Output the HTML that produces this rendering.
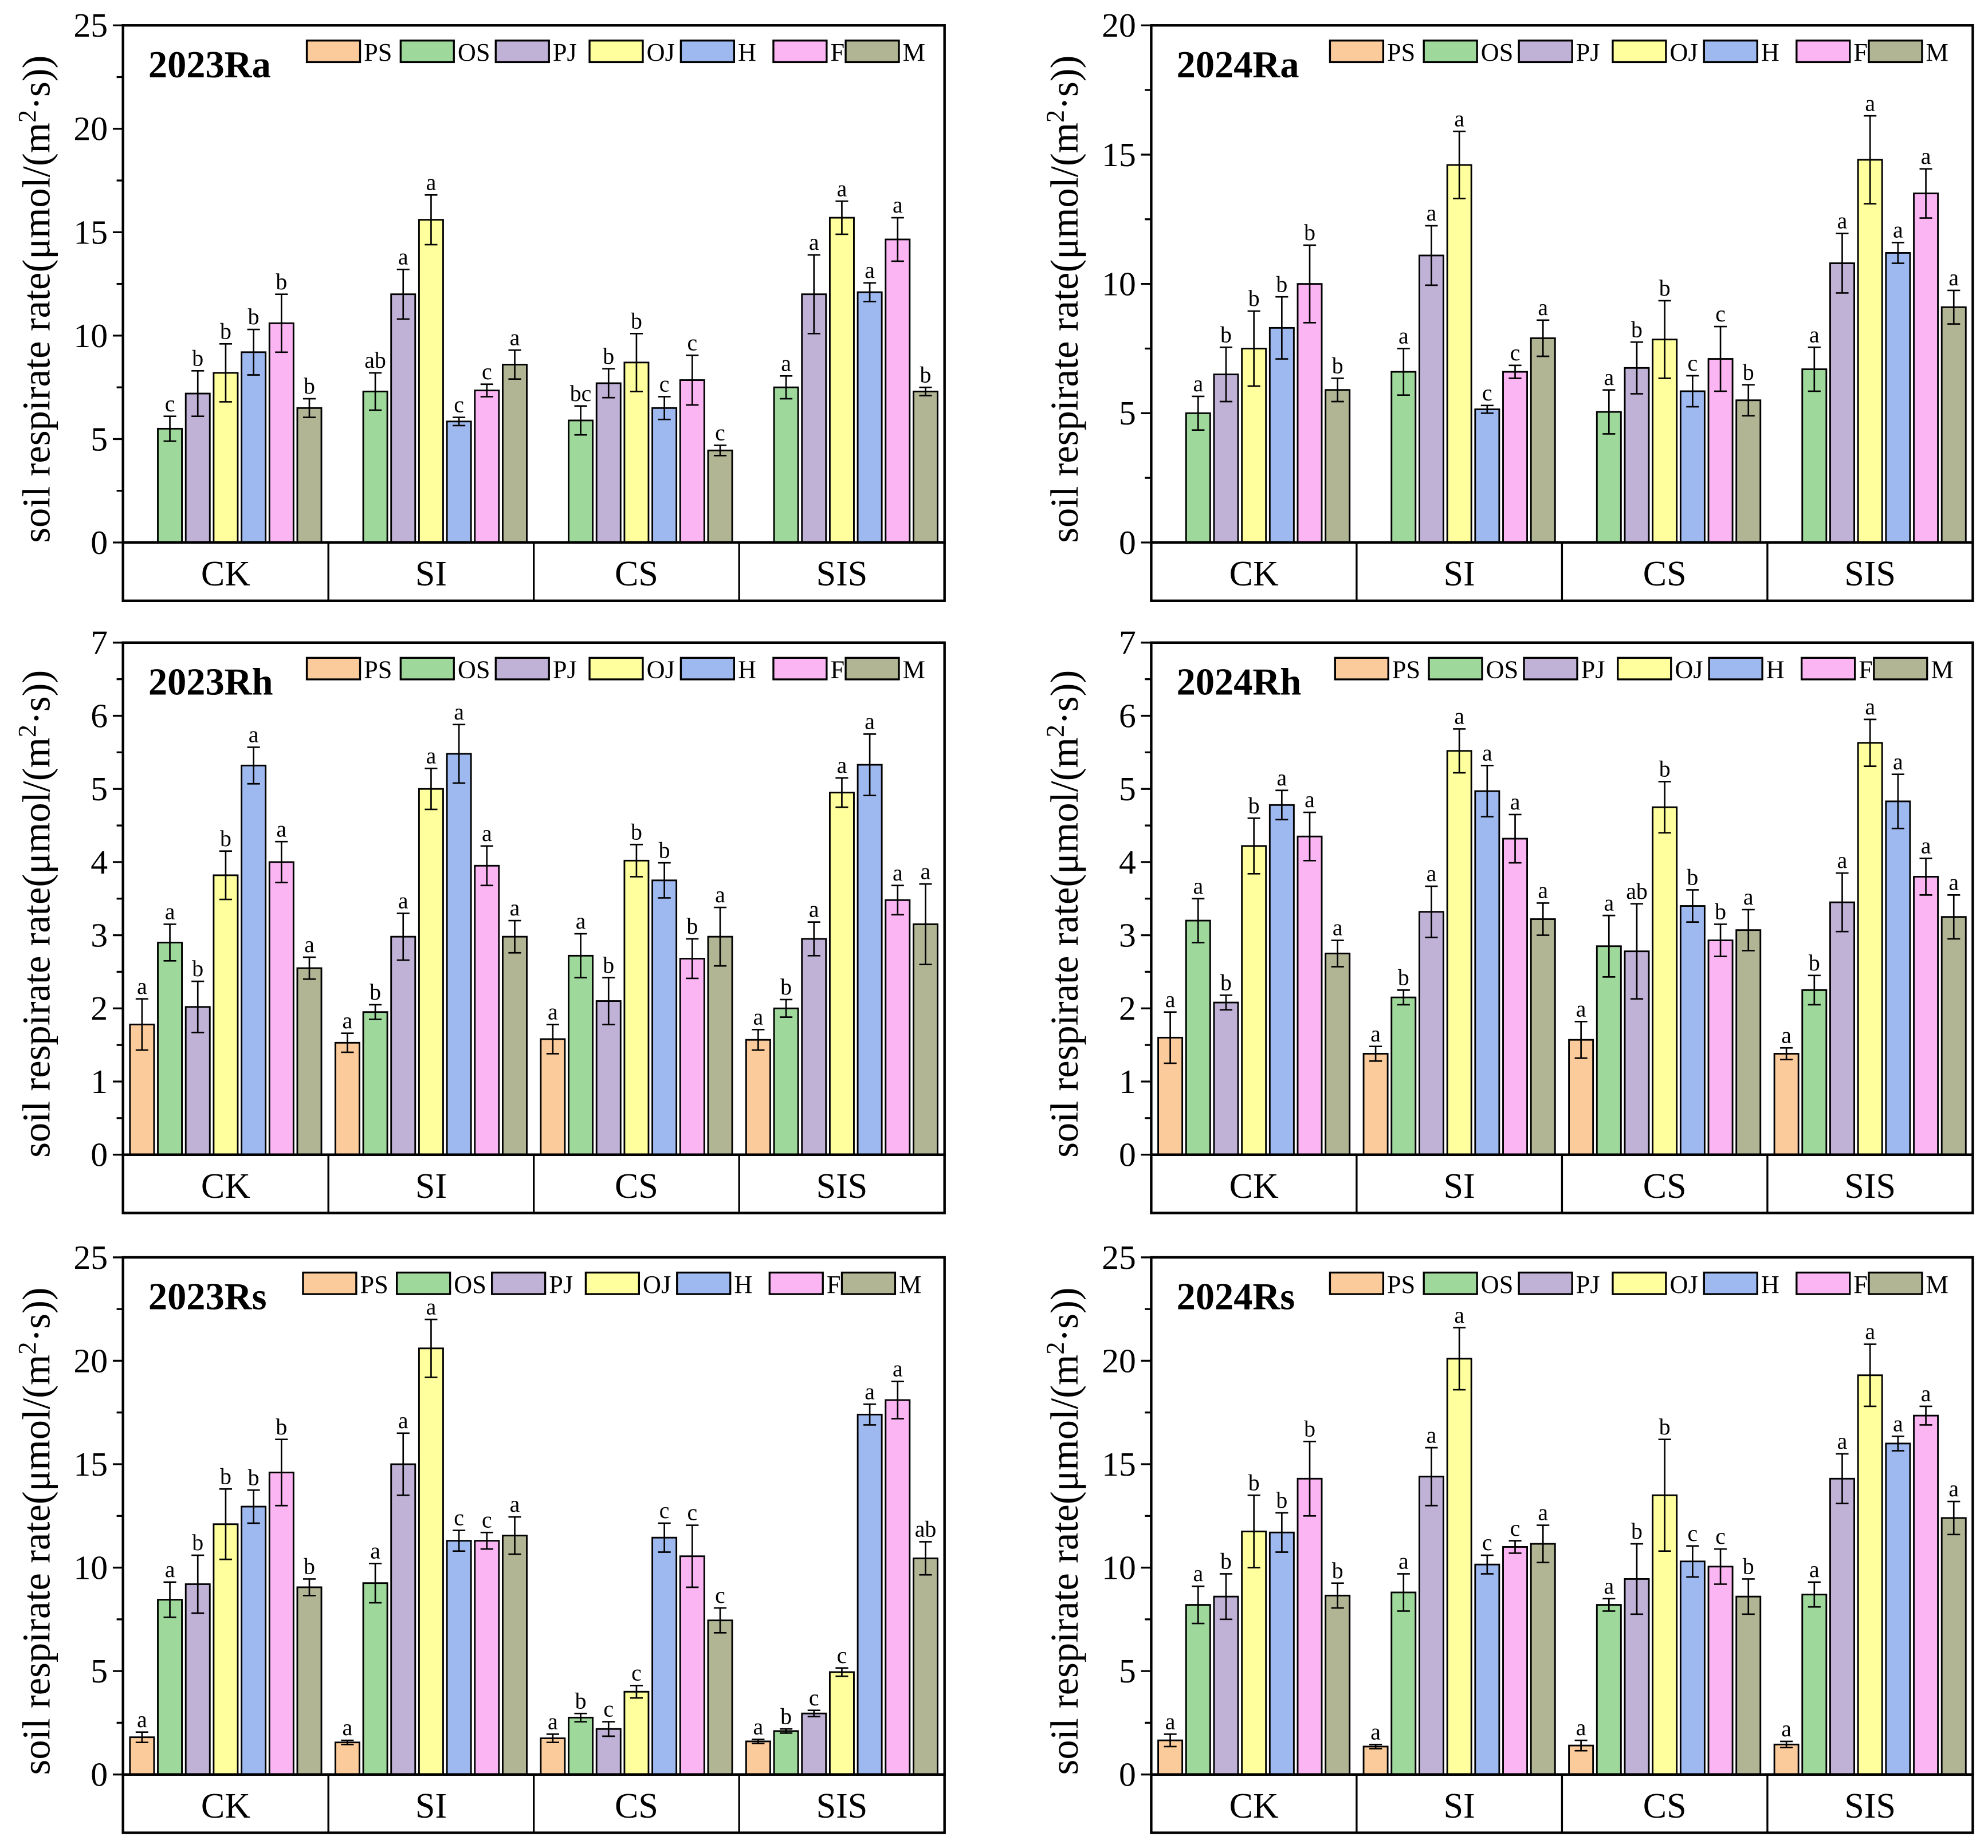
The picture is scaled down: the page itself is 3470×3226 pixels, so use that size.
<!DOCTYPE html>
<html><head><meta charset="utf-8"><style>
html,body{margin:0;padding:0;background:#fff;}
svg{display:block;}
text{font-family:"Liberation Serif",serif;}
</style></head><body>
<svg id="chart" width="3470" height="3226" viewBox="0 0 1568 1458" preserveAspectRatio="none" xmlns="http://www.w3.org/2000/svg"></svg>
<script>
const series = ["PS","OS","PJ","OJ","H","F","M"];
const colors = ["#FCCB9B","#9ED99B","#C0B1D7","#FFFF9E","#9DB9EF","#FBB5F3","#B2B593"];
const groups = ["CK","SI","CS","SIS"];

const ra23Vals = [[0,5.5,7.2,8.2,9.2,10.6,6.5],[0,7.3,12,15.6,5.85,7.35,8.6],[0,5.9,7.7,8.7,6.5,7.85,4.45],[0,7.5,12,15.7,12.1,14.65,7.3]];
const ra23Err = [[0,0.6,1.1,1.4,1.1,1.4,0.45],[0,0.9,1.2,1.2,0.2,0.3,0.7],[0,0.7,0.7,1.4,0.55,1.2,0.25],[0,0.55,1.9,0.8,0.45,1.05,0.2]];
const ra23Let = [["","c","b","b","b","b","b"],["","ab","a","a","c","c","a"],["","bc","b","b","c","c","c"],["","a","a","a","a","a","b"]];

const ra24Vals = [[0,5.0,6.5,7.5,8.3,10,5.9],[0,6.6,11.1,14.6,5.15,6.6,7.9],[0,5.05,6.75,7.85,5.85,7.1,5.5],[0,6.7,10.8,14.8,11.2,13.5,9.1]];
const ra24Err = [[0,0.65,1.05,1.45,1.2,1.5,0.45],[0,0.9,1.15,1.3,0.15,0.25,0.7],[0,0.85,1.0,1.5,0.6,1.25,0.6],[0,0.85,1.15,1.7,0.4,0.95,0.65]];
const ra24Let = [["","a","b","b","b","b","b"],["","a","a","a","c","c","a"],["","a","b","b","c","c","b"],["","a","a","a","a","a","a"]];

const rh23Vals = [[1.78,2.9,2.02,3.82,5.32,4.0,2.55],[1.53,1.95,2.98,5.0,5.48,3.95,2.98],[1.58,2.72,2.1,4.02,3.75,2.68,2.98],[1.57,2.0,2.95,4.95,5.33,3.48,3.15]];
const rh23Err = [[0.35,0.25,0.35,0.33,0.25,0.28,0.15],[0.13,0.1,0.32,0.28,0.4,0.27,0.22],[0.2,0.3,0.32,0.22,0.24,0.27,0.4],[0.14,0.12,0.23,0.2,0.42,0.2,0.55]];
const rh23Let = [["a","a","b","b","a","a","a"],["a","b","a","a","a","a","a"],["a","a","b","b","b","b","a"],["a","b","a","a","a","a","a"]];

const rh24Vals = [[1.6,3.2,2.08,4.22,4.78,4.35,2.75],[1.38,2.15,3.32,5.52,4.97,4.32,3.22],[1.57,2.85,2.78,4.75,3.4,2.93,3.07],[1.38,2.25,3.45,5.63,4.83,3.8,3.25]];
const rh24Err = [[0.35,0.3,0.1,0.38,0.2,0.33,0.18],[0.1,0.1,0.35,0.3,0.35,0.33,0.22],[0.25,0.42,0.65,0.35,0.22,0.22,0.28],[0.08,0.2,0.4,0.32,0.37,0.25,0.3]];
const rh24Let = [["a","a","b","b","a","a","a"],["a","b","a","a","a","a","a"],["a","a","ab","b","b","b","a"],["a","b","a","a","a","a","a"]];

const rs23Vals = [[1.8,8.45,9.2,12.1,12.95,14.6,9.05],[1.55,9.25,15,20.6,11.3,11.3,11.55],[1.75,2.75,2.2,4.0,11.45,10.55,7.45],[1.6,2.1,2.95,4.95,17.4,18.1,10.45]];
const rs23Err = [[0.25,0.85,1.4,1.7,0.8,1.6,0.4],[0.1,0.95,1.5,1.4,0.5,0.4,0.9],[0.2,0.2,0.35,0.3,0.7,1.5,0.6],[0.1,0.1,0.15,0.2,0.5,0.9,0.8]];
const rs23Let = [["a","a","b","b","b","b","b"],["a","a","a","a","c","c","a"],["a","b","c","c","c","c","c"],["a","b","c","c","a","a","ab"]];

const rs24Vals = [[1.65,8.2,8.6,11.75,11.7,14.3,8.65],[1.35,8.8,14.4,20.1,10.15,11.0,11.15],[1.4,8.2,9.45,13.5,10.3,10.05,8.6],[1.45,8.7,14.3,19.3,16.0,17.35,12.4]];
const rs24Err = [[0.3,0.9,1.1,1.75,0.95,1.8,0.6],[0.1,0.9,1.4,1.5,0.45,0.3,0.9],[0.25,0.3,1.7,2.7,0.75,0.85,0.85],[0.15,0.6,1.2,1.5,0.35,0.45,0.8]];
const rs24Let = [["a","a","b","b","b","b","b"],["a","a","a","a","c","c","a"],["a","a","b","b","c","c","b"],["a","a","a","a","a","a","a"]];

const panels = [
 {title:"2023Ra",x:97,top:20,bot:428,max:25,step:5,vals:ra23Vals,err:ra23Err,let:ra23Let,name:"panel-2023ra",lo:0},
 {title:"2024Ra",x:908,top:20,bot:428,max:20,step:5,vals:ra24Vals,err:ra24Err,let:ra24Let,name:"panel-2024ra",lo:-4},
 {title:"2023Rh",x:97,top:507,bot:911,max:7,step:1,vals:rh23Vals,err:rh23Err,let:rh23Let,name:"panel-2023rh",lo:0},
 {title:"2024Rh",x:908,top:507,bot:911,max:7,step:1,vals:rh24Vals,err:rh24Err,let:rh24Let,name:"panel-2024rh",lo:0},
 {title:"2023Rs",x:97,top:992,bot:1400,max:25,step:5,vals:rs23Vals,err:rs23Err,let:rs23Let,name:"panel-2023rs",lo:-3},
 {title:"2024Rs",x:908,top:992,bot:1400,max:25,step:5,vals:rs24Vals,err:rs24Err,let:rs24Let,name:"panel-2024rs",lo:-4}
];
const legOff = [145,219,294,368,440,513,570];
const NS="http://www.w3.org/2000/svg";
const svg=document.getElementById('chart');
function mk(tag,attrs,parent,txt){const e=document.createElementNS(NS,tag);for(const k in attrs)e.setAttribute(k,attrs[k]);if(txt!==undefined)e.textContent=txt;(parent||svg).appendChild(e);return e;}

panels.forEach(p=>{
  const W=648, H=p.bot-p.top;
  const g=mk('g',{});
  
  
  const y=v=>p.bot - v/p.max*H;
  p.vals.forEach((row,gi)=>{
    const cx=p.x+81+gi*162;
    row.forEach((v,si)=>{
      if(v<=0) return;
      const bx=cx+(si-3)*22-9.5;
      const r=mk('rect',{x:bx,y:y(v),width:19,height:p.bot-y(v),fill:colors[si],stroke:'#000','stroke-width':1.3},g);
      
      
      const e=p.err[gi][si], mx=bx+9.5;
      const eb=mk('path',{d:`M${mx},${y(v+e)}V${y(v-e)}M${mx-5},${y(v+e)}h10M${mx-5},${y(v-e)}h10`,stroke:'#000','stroke-width':1.2,fill:'none'},g);
      
      
      const t=mk('text',{x:mx,y:y(v+e)-4,'text-anchor':'middle','font-size':18},g,p.let[gi][si]);
      
      
    });
  });
  const fr=mk('rect',{x:p.x,y:p.top,width:W,height:H,fill:'none',stroke:'#000','stroke-width':2},g);
  
  
  const cb=mk('rect',{x:p.x,y:p.bot,width:W,height:46,fill:'none',stroke:'#000','stroke-width':2},g);
  
  
  groups.forEach((gn,gi)=>{
    if(gi>0) mk('line',{x1:p.x+gi*162,x2:p.x+gi*162,y1:p.bot,y2:p.bot+46,stroke:'#000','stroke-width':1.5},g);
    const t=mk('text',{x:p.x+81+gi*162,y:p.bot+34,'text-anchor':'middle','font-size':28},g,gn);
    
    
  });
  for(let v=0;v<=p.max+1e-9;v+=p.step/2){
    const major=Math.abs(v/p.step-Math.round(v/p.step))<1e-6;
    mk('line',{x1:p.x,x2:p.x-(major?8:5),y1:y(v),y2:y(v),stroke:'#000','stroke-width':1.5},g);
    if(major){
      const t=mk('text',{x:p.x-12,y:y(v)+9,'text-anchor':'end','font-size':27},g,String(Math.round(v)));
      
      
    }
  }
  const cy=(p.top+p.bot)/2;
  const yt=mk('text',{x:0,y:0,transform:`translate(${p.x-58},${cy+12}) rotate(-90)`,'text-anchor':'middle','font-size':31},g);
  
  
  mk('tspan',{},yt,'soil respirate rate(μmol/(m');
  mk('tspan',{dy:-11,'font-size':20},yt,'2');
  mk('tspan',{dy:11},yt,'·s))');
  const tt=mk('text',{x:p.x+20,y:p.top+41,'font-size':30,'font-weight':'bold'},g,p.title);
  
  
  series.forEach((s,si)=>{
    const lx=p.x+legOff[si]+p.lo, ly=p.top+12;
    const lr=mk('rect',{x:lx,y:ly,width:42,height:17,fill:colors[si],stroke:'#000','stroke-width':1.5},g);
    
    
    const lt=mk('text',{x:lx+45,y:ly+16,'font-size':20},g,s);
    
    
  });
});
</script>
</body></html>
